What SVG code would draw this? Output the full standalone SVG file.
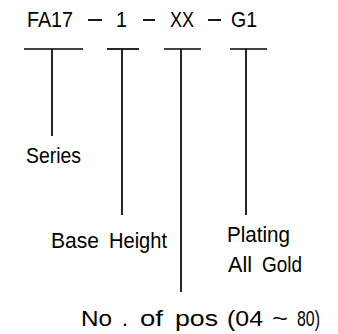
<svg xmlns="http://www.w3.org/2000/svg" width="338" height="334" viewBox="0 0 338 334">
<style>
.t{font-family:"Liberation Sans",Arial,sans-serif;font-size:21.5px;fill:#000}
.l{font-family:"Liberation Sans",Arial,sans-serif;font-size:22.5px;fill:#000}
.c line{stroke:#000;stroke-width:1.7}
</style>
<rect width="338" height="334" fill="#fff"/>
<g id="part-number">
<text class="t" x="27" y="27" textLength="46" lengthAdjust="spacingAndGlyphs">FA17</text>
<line x1="88" y1="20" x2="102" y2="20" stroke="#000" stroke-width="1.8"/>
<text class="t" x="116" y="27" textLength="11" lengthAdjust="spacingAndGlyphs">1</text>
<line x1="143" y1="20" x2="155" y2="20" stroke="#000" stroke-width="1.8"/>
<text class="t" x="170" y="27" textLength="24" lengthAdjust="spacingAndGlyphs">XX</text>
<line x1="208" y1="20" x2="221" y2="20" stroke="#000" stroke-width="1.8"/>
<text class="t" x="231" y="27" textLength="26" lengthAdjust="spacingAndGlyphs">G1</text>
</g>
<g id="connectors" class="c">
<line x1="24" y1="49" x2="83" y2="49"/>
<line x1="52" y1="49" x2="52" y2="136"/>
<line x1="107" y1="49" x2="139" y2="49"/>
<line x1="122" y1="49" x2="122" y2="215"/>
<line x1="164" y1="49" x2="201" y2="49"/>
<line x1="181" y1="49" x2="181" y2="292"/>
<line x1="230" y1="49" x2="267" y2="49"/>
<line x1="246" y1="49" x2="246" y2="215"/>
</g>
<g id="series"><text class="l" x="26" y="163" textLength="55" lengthAdjust="spacingAndGlyphs">Series</text></g>
<g id="base-height"><text class="l" x="51" y="248" textLength="48" lengthAdjust="spacingAndGlyphs">Base</text><text class="l" x="109" y="248" textLength="58" lengthAdjust="spacingAndGlyphs">Height</text></g>
<g id="plating"><text class="l" x="227" y="242" textLength="63" lengthAdjust="spacingAndGlyphs">Plating</text><text class="l" x="228" y="272" textLength="24" lengthAdjust="spacingAndGlyphs">All</text><text class="l" x="262" y="272" textLength="40" lengthAdjust="spacingAndGlyphs">Gold</text></g>
<g id="positions">
<text class="l" x="81" y="326" textLength="31" lengthAdjust="spacingAndGlyphs">No</text>
<text class="l" x="122" y="326" textLength="6" lengthAdjust="spacingAndGlyphs">.</text>
<text class="l" x="140" y="326" textLength="23" lengthAdjust="spacingAndGlyphs">of</text>
<text class="l" x="175" y="326" textLength="43" lengthAdjust="spacingAndGlyphs">pos</text>
<text class="l" x="227" y="326" textLength="36" lengthAdjust="spacingAndGlyphs">(04</text>
<text class="l" x="272" y="326" textLength="16" lengthAdjust="spacingAndGlyphs">~</text>
<text class="l" x="297" y="326" textLength="23" lengthAdjust="spacingAndGlyphs">80)</text>
</g>
</svg>
